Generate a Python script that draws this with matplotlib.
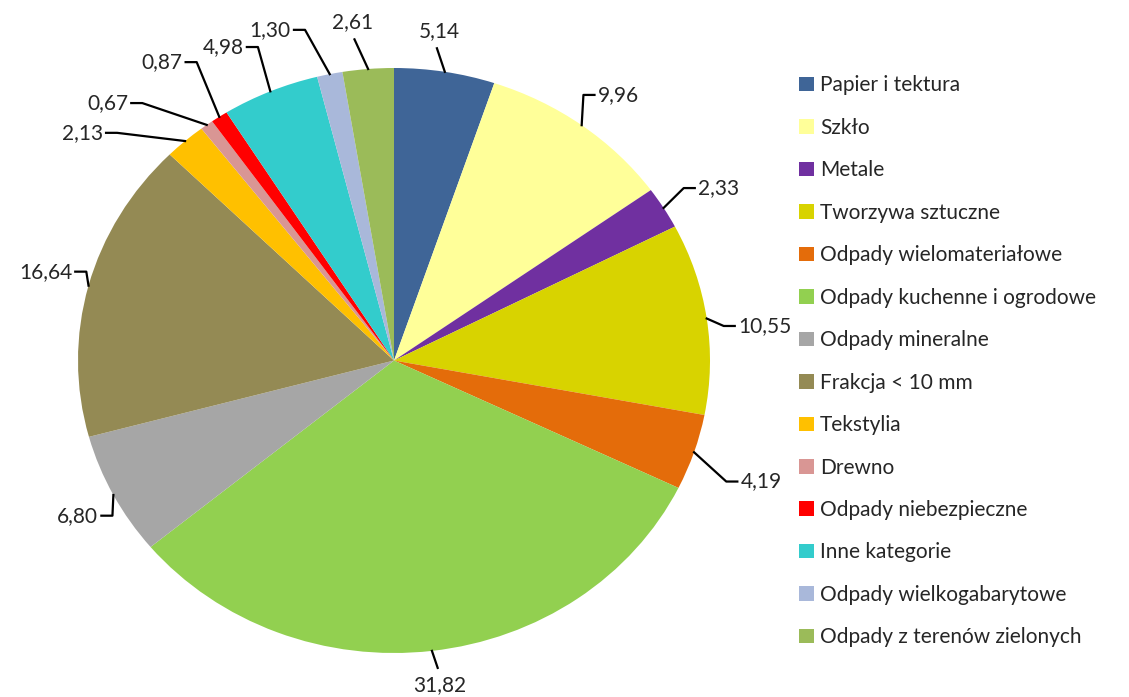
import numpy as np
import matplotlib.pyplot as plt
from matplotlib.patches import Patch

plt.rcParams['font.family'] = ['Lato', 'DejaVu Sans']

categories = ['Papier i tektura', 'Szkło', 'Metale', 'Tworzywa sztuczne',
              'Odpady wielomateriałowe', 'Odpady kuchenne i ogrodowe',
              'Odpady mineralne', 'Frakcja < 10 mm', 'Tekstylia', 'Drewno',
              'Odpady niebezpieczne', 'Inne kategorie',
              'Odpady wielkogabarytowe', 'Odpady z terenów zielonych']
values = [5.14, 9.96, 2.33, 10.55, 4.19, 31.82, 6.80, 16.64, 2.13, 0.67,
          0.87, 4.98, 1.30, 2.61]
colors = ['#3F6597', '#FFFF99', '#7030A0', '#D8D300', '#E46C0A', '#92D050',
          '#A6A6A6', '#948A54', '#FFC000', '#D99694', '#FF0000', '#33CCCC',
          '#A9B8DA', '#9BBB59']

# label layout: radius of the text and angular nudge (deg) for crowded ones
label_r = [1.136, 1.178, 1.18, 1.14, 1.22, 1.12, 1.127, 1.11, 1.262, 1.277,
           1.286, 1.245, 1.255, 1.165]
label_shift = [2, 3, 1.3, -1.8, -3.2, 0.6, 3.4, -2.5, 7, 5.8, -2.1, -1.15,
               2.25, 1.8]

fig = plt.figure(figsize=(11.29, 6.97), dpi=100)
# pie is drawn slightly stretched horizontally, like the original
ax = fig.add_axes([78 / 1129, (697 - 653) / 697, 632 / 1129, 585 / 697])
wedges, _ = ax.pie(values, colors=colors, startangle=90, counterclock=False,
                   wedgeprops=dict(linewidth=0))
ax.set_aspect('auto')
ax.set_xlim(-1, 1)
ax.set_ylim(-1, 1)
ax.axis('off')

for w, v, r, s in zip(wedges, values, label_r, label_shift):
    mid = np.deg2rad((w.theta1 + w.theta2) / 2)
    a = mid + np.deg2rad(s)
    x0, y0 = np.cos(mid), np.sin(mid)
    txt = f'{v:.2f}'.replace('.', ',')
    if abs(np.cos(a)) < 0.2:
        # top / bottom labels: straight leader, text centred beyond it
        ex, ey = (r - 0.06) * np.cos(a), (r - 0.06) * np.sin(a)
        ax.plot([x0, ex], [y0, ey], color='black', lw=1.6, clip_on=False)
        ax.text(r * np.cos(a), r * np.sin(a), txt, ha='center', va='center',
                fontsize=15, color='#262626', clip_on=False)
    else:
        side = 1 if np.cos(a) > 0 else -1
        ex, ey = (r - 0.09) * np.cos(a), (r - 0.09) * np.sin(a)
        hx = ex + side * 0.035
        ax.plot([x0, ex, hx], [y0, ey, ey], color='black', lw=1.6,
                clip_on=False)
        ax.text(hx + side * 0.01, ey, txt, ha='left' if side > 0 else 'right',
                va='center', fontsize=15, color='#262626', clip_on=False)

handles = [Patch(facecolor=c, edgecolor='none') for c in colors]
fig.legend(handles, categories, loc='upper left',
           bbox_to_anchor=(789 / 1129, 1 - 65 / 697), frameon=False,
           fontsize=15, handlelength=0.7, handleheight=0.7,
           handletextpad=0.3, labelspacing=1.078, borderpad=0,
           labelcolor='#262626')

fig.savefig('out.png', dpi=100)
